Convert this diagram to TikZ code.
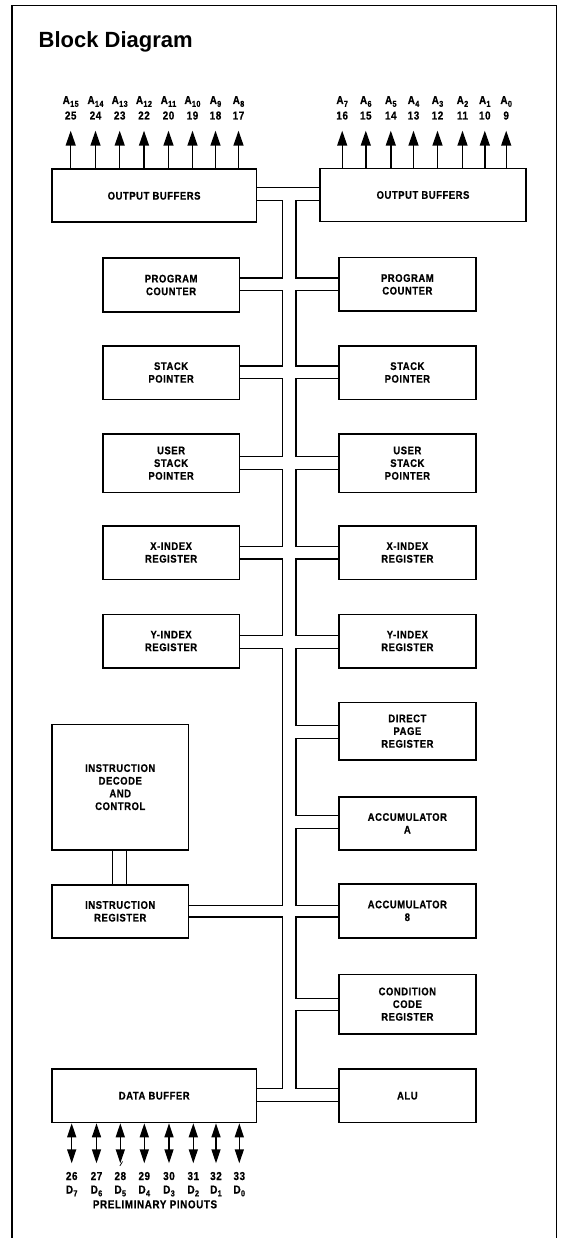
\documentclass[tikz,border=0pt]{standalone}
\usepackage{fontspec}
\setmainfont{Liberation Sans}
\newfontfamily\labfont{Liberation Sans}[FakeStretch=0.86,LetterSpace=5,FakeBold=0.6]
\usetikzlibrary{arrows.meta}

% pin name with a lowered index, e.g. A_15
\newcommand\pinsub[2]{#1\kern0.3pt\raisebox{-2.8pt}{\fontsize{8.5}{8.5}\selectfont #2}}

\tikzset{
  frameline/.style={line width=1.5pt},
  blk/.style={draw, line width=1.6pt, inner sep=0pt, align=center,
    font=\labfont\bfseries\fontsize{11}{12.7}\selectfont},
  bus/.style={line width=1.3pt},
  pin/.style={font=\labfont\bfseries\fontsize{11.5}{12}\selectfont, inner sep=0pt, anchor=base},
  outarrow/.style={line width=1.4pt, -{Triangle[length=15pt,width=10pt]}},
  ioarrow/.style={line width=1.4pt, {Triangle[length=14pt,width=9pt]}-{Triangle[length=14pt,width=9pt]}},
}

\begin{document}
\begin{tikzpicture}[x=1pt,y=-1pt]
\useasboundingbox (0,0) rectangle (562,1238);

% outer frame (open at the bottom)
\draw[frameline] (12,1238) -- (12,5.5) -- (556.7,5.5) -- (556.7,1238);

\node[anchor=base west, inner sep=0pt, font=\bfseries\fontsize{22}{26}\selectfont] (title) at (38.5,48) {Block Diagram};

% ---- blocks ----
\node[blk, minimum width=204.8pt, minimum height=53pt] (obL) at (154.1,195.8) {OUTPUT BUFFERS};
\node[blk, minimum width=206pt, minimum height=53pt] (obR) at (423,195) {OUTPUT BUFFERS};

\node[blk, minimum width=136.8pt, minimum height=53.4pt] (pcL) at (171.1,285) {PROGRAM\\COUNTER};
\node[blk, minimum width=137.3pt, minimum height=53.4pt] (pcR) at (407.35,284.4) {PROGRAM\\COUNTER};

\node[blk, minimum width=136.8pt, minimum height=53.6pt] (spL) at (171.1,372.5) {STACK\\POINTER};
\node[blk, minimum width=137.3pt, minimum height=53.6pt] (spR) at (407.35,372.5) {STACK\\POINTER};

\node[blk, minimum width=136.8pt, minimum height=58.3pt] (uspL) at (171.1,463.15) {USER\\STACK\\POINTER};
\node[blk, minimum width=137.3pt, minimum height=58.3pt] (uspR) at (407.35,463.15) {USER\\STACK\\POINTER};

\node[blk, minimum width=136.8pt, minimum height=53.6pt] (xL) at (171.1,552.5) {X-INDEX\\REGISTER};
\node[blk, minimum width=137.3pt, minimum height=53.6pt] (xR) at (407.35,552.5) {X-INDEX\\REGISTER};

\node[blk, minimum width=136.8pt, minimum height=53.4pt] (yL) at (171.1,641) {Y-INDEX\\REGISTER};
\node[blk, minimum width=137.3pt, minimum height=53.4pt] (yR) at (407.35,641) {Y-INDEX\\REGISTER};

\node[blk, minimum width=137.3pt, minimum height=57.7pt] (dp) at (407.35,731.15) {DIRECT\\PAGE\\REGISTER};

\node[blk, minimum width=136.5pt, minimum height=125.7pt] (idc) at (120.25,787.15) {INSTRUCTION\\DECODE\\AND\\CONTROL};

\node[blk, minimum width=137.3pt, minimum height=53.3pt] (accA) at (407.35,823.35) {ACCUMULATOR\\A};

\node[blk, minimum width=136.5pt, minimum height=52.7pt] (ir) at (120.25,911.35) {INSTRUCTION\\REGISTER};
\node[blk, minimum width=137.3pt, minimum height=53.7pt] (accB) at (407.35,910.85) {ACCUMULATOR\\8};

\node[blk, minimum width=137.3pt, minimum height=59.7pt] (ccr) at (407.35,1004.15) {CONDITION\\CODE\\REGISTER};

\node[blk, minimum width=204.5pt, minimum height=53.5pt] (db) at (154.25,1095.75) {DATA BUFFER};
\node[blk, minimum width=137.3pt, minimum height=53.5pt] (alu) at (407.35,1095.75) {ALU};

% ---- internal double bus ----
\def\busLeftX{282.5}
\def\busRightX{296}

\draw[bus] (obL.east |- 0,187.7) -- (obR.west |- 0,187.7);
\draw[bus] (db.east |- 0,1101.3) -- (alu.west |- 0,1101.3);

\foreach \a/\b/\ya/\yb in {obL/pcL/200.5/278, pcL/spL/290.5/366, spL/uspL/378.3/456.7,
    uspL/xL/469.3/546.7, xL/yL/559/635.7, yL/ir/648.3/905.8, ir/db/917/1088.7}
  \draw[bus] (\a.east |- 0,\ya) -- (\busLeftX,\ya) -- (\busLeftX,\yb) -- (\b.east |- 0,\yb);

\foreach \a/\b/\ya/\yb in {obR/pcR/200.5/278, pcR/spR/290.5/366, spR/uspR/378.3/456.7,
    uspR/xR/469.3/546.7, xR/yR/559/635.7, yR/dp/648.3/725.7, dp/accA/738.3/815.7,
    accA/accB/828.3/905.8, accB/ccr/917/998.3, ccr/alu/1010.7/1088.7}
  \draw[bus] (\a.west |- 0,\ya) -- (\busRightX,\ya) -- (\busRightX,\yb) -- (\b.west |- 0,\yb);

% decode/control to instruction register
\draw[bus] (idc.south -| 112.2,0) -- (ir.north -| 112.2,0);
\draw[bus] (idc.south -| 126.5,0) -- (ir.north -| 126.5,0);

% ---- address outputs ----
\foreach \x/\s/\n [count=\i] in {70.7/15/25, 95.5/14/24, 119.7/13/23, 144/12/22,
    168.5/11/20, 192.5/10/19, 215.5/9/18, 238.5/8/17} {
  \node[pin] (aL\i) at (\x,104) {\pinsub{A}{\s}};
  \node[pin] (nL\i) at (\x,119.5) {\n};
  \coordinate (tL\i) at (\x,130.7);
  \draw[outarrow] (obL.north -| tL\i) -- (tL\i);
}
\foreach \x/\s/\n [count=\i] in {342.2/7/16, 365.8/6/15, 390.8/5/14, 413.5/4/13,
    437.5/3/12, 462.5/2/11, 484.8/1/10, 506.2/0/9} {
  \node[pin] (aR\i) at (\x,104) {\pinsub{A}{\s}};
  \node[pin] (nR\i) at (\x,119.5) {\n};
  \coordinate (tR\i) at (\x,130.7);
  \draw[outarrow] (obR.north -| tR\i) -- (tR\i);
}

% ---- data lines ----
\foreach \x/\n/\s [count=\i] in {71.7/26/7, 96.5/27/6, 120.3/28/5, 144.3/29/4,
    169/30/3, 193.3/31/2, 216/32/1, 239.3/33/0} {
  \coordinate (bD\i) at (\x,1163.3);
  \draw[ioarrow] (db.south -| bD\i) -- (bD\i);
  \node[pin] (dn\i) at (\x,1180) {\n};
  \node[pin] (dl\i) at (\x,1193.5) {\pinsub{D}{\s}};
}
\draw[line width=0.7pt] (119.8,1166) -- (122.6,1161.5);

\node[pin] (pinouts) at (155,1208.3) {PRELIMINARY PINOUTS};

\end{tikzpicture}
\end{document}
